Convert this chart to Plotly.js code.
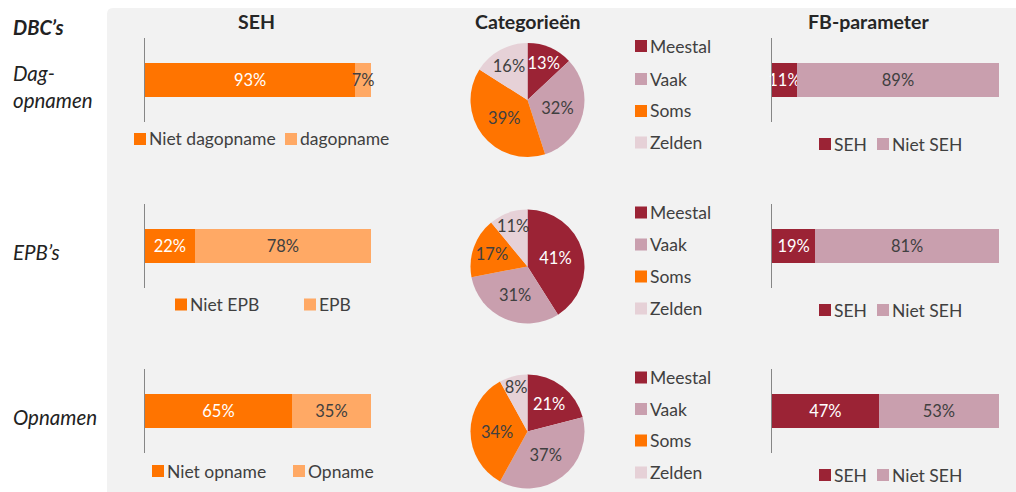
<!DOCTYPE html>
<html>
<head>
<meta charset="utf-8">
<script src="https://cdn.plot.ly/plotly-3.0.1.min.js"></script>
<style>html,body{margin:0;padding:0;background:#fff;}#chart{width:1016px;height:492px;}</style>
</head>
<body>
<div id="chart"></div>
<script>
// ---------- DATA ----------
const rowLabels = ['Dag-<br>opnamen', 'EPB\u2019s', 'Opnamen'];
const sehSeriesDag = ['Niet dagopname', 'dagopname'];
const sehSeriesEpb = ['Niet EPB', 'EPB'];
const sehSeriesOpn = ['Niet opname', 'Opname'];
const sehValuesDag = [93, 7];
const sehValuesEpb = [22, 78];
const sehValuesOpn = [65, 35];
const pieCategories = ['Meestal', 'Vaak', 'Soms', 'Zelden'];
const pieValuesDag = [13, 32, 39, 16];
const pieValuesEpb = [41, 31, 17, 11];
const pieValuesOpn = [21, 37, 34, 8];
const fbSeries = ['SEH', 'Niet SEH'];
const fbValuesDag = [11, 89];
const fbValuesEpb = [19, 81];
const fbValuesOpn = [47, 53];

// ---------- STYLE ----------
const W = 1016, H = 492;
const FONT = 'Lato, "Open Sans", sans-serif';
const DARK = '#404040';
const sehColors = ['#FF7400', '#FFA965'];
const fbColors = ['#9B2335', '#C99FAE'];
const pieColors = ['#9B2335', '#C99FAE', '#FF7400', '#E6D1D7'];
const pieTextColors = ['#ffffff', DARK, DARK, DARK];
const sehTextColors = ['#ffffff', DARK];
const fbTextColors = ['#ffffff', DARK];

const px = v => v / W;
const py = v => 1 - v / H;

// row geometry (pixels)
const rows = [
  {axisTop: 38, axisBot: 122, pieCy: 100, sehLegY: 139, fbLegY: 144, pieLegY: [46, 79, 111, 142.5], labelY: 87},
  {axisTop: 204, axisBot: 288, pieCy: 266.5, sehLegY: 304.5, fbLegY: 310, pieLegY: [212.5, 244.5, 276.5, 308.5], labelY: 252},
  {axisTop: 369, axisBot: 453, pieCy: 431.5, sehLegY: 471, fbLegY: 475, pieLegY: [377.5, 409, 440.5, 472.5], labelY: 417}
];
const sehLegX = [[134, 285], [175, 304], [152, 293]];
const fbLegX = [819, 877];

const sehSeries = [sehSeriesDag, sehSeriesEpb, sehSeriesOpn];
const sehValues = [sehValuesDag, sehValuesEpb, sehValuesOpn];
const pieValues = [pieValuesDag, pieValuesEpb, pieValuesOpn];
const fbValues = [fbValuesDag, fbValuesEpb, fbValuesOpn];

const data = [];
const layout = {
  width: W, height: H,
  margin: {l: 0, r: 0, t: 0, b: 0},
  paper_bgcolor: '#ffffff',
  plot_bgcolor: 'rgba(0,0,0,0)',
  showlegend: false,
  barmode: 'stack',
  bargap: 0.595,
  font: {family: FONT, color: DARK, size: 16},
  uniformtext: {mode: 'show', minsize: 16.5},
  shapes: [],
  annotations: []
};

// background panel
layout.shapes.push({
  type: 'path', xref: 'paper', yref: 'paper', layer: 'below',
  path: `M ${px(107)} ${py(492)} L ${px(107)} ${py(14)} Q ${px(107)} ${py(8)} ${px(113)} ${py(8)} L ${px(1016)} ${py(8)} L ${px(1016)} ${py(492)} Z`,
  fillcolor: '#F2F2F2', line: {width: 0}
});

function addAxes(idx, x0, x1, r) {
  const xa = idx === 1 ? 'xaxis' : 'xaxis' + idx;
  const ya = idx === 1 ? 'yaxis' : 'yaxis' + idx;
  layout[xa] = {domain: [px(x0), px(x1)], range: [0, 100], visible: false, fixedrange: true,
    anchor: idx === 1 ? 'y' : 'y' + idx};
  layout[ya] = {domain: [py(r.axisBot), py(r.axisTop)], anchor: idx === 1 ? 'x' : 'x' + idx,
    showline: true, linecolor: '#868686', linewidth: 1, showticklabels: false, ticks: '',
    showgrid: false, zeroline: false, fixedrange: true, type: 'category'};
}

function legendItem(x, y, color, text) {
  layout.shapes.push({type: 'rect', xref: 'paper', yref: 'paper', layer: 'above',
    x0: px(x), x1: px(x + 12), y0: py(y + 6), y1: py(y - 6), fillcolor: color, line: {width: 0}});
  layout.annotations.push({xref: 'paper', yref: 'paper', x: px(x + 14), y: py(y), xanchor: 'left', yanchor: 'middle',
    text: text, showarrow: false, font: {family: FONT, size: 17.5, color: DARK}, borderpad: 0});
}

rows.forEach((r, i) => {
  const sehIdx = i + 1, fbIdx = i + 4;
  addAxes(sehIdx, 145, 371, r);
  addAxes(fbIdx, 772, 999, r);
  const ycat = [rowLabels[i]];
  sehSeries[i].forEach((name, k) => {
    data.push({type: 'bar', orientation: 'h', name: name, x: [sehValues[i][k]], y: ycat,
      xaxis: sehIdx === 1 ? 'x' : 'x' + sehIdx, yaxis: sehIdx === 1 ? 'y' : 'y' + sehIdx,
      marker: {color: sehColors[k], line: {width: 0}},
      texttemplate: '%{x}%', textposition: 'inside', insidetextanchor: 'middle', textangle: 0,
      constraintext: 'none', cliponaxis: false,
      textfont: {family: FONT, size: 16.5, color: sehTextColors[k]}, hoverinfo: 'skip'});
    legendItem(sehLegX[i][k], r.sehLegY, sehColors[k], name);
  });
  fbSeries.forEach((name, k) => {
    data.push({type: 'bar', orientation: 'h', name: name, x: [fbValues[i][k]], y: ycat,
      xaxis: 'x' + fbIdx, yaxis: 'y' + fbIdx,
      marker: {color: fbColors[k], line: {width: 0}},
      texttemplate: '%{x}%', textposition: 'inside', insidetextanchor: 'middle', textangle: 0,
      constraintext: 'none', cliponaxis: false,
      textfont: {family: FONT, size: 16.5, color: fbTextColors[k]}, hoverinfo: 'skip'});
    legendItem(fbLegX[k], r.fbLegY, fbColors[k], name);
  });
  data.push({type: 'pie', values: pieValues[i], labels: pieCategories, sort: false,
    direction: 'clockwise', rotation: 0,
    domain: {x: [px(470.5), px(584.5)], y: [py(r.pieCy + 57), py(r.pieCy - 57)]},
    marker: {colors: pieColors, line: {width: 0}},
    texttemplate: '%{value}%', textposition: 'inside', insidetextorientation: 'horizontal',
    textfont: {family: FONT, size: 16.5, color: pieTextColors}, hoverinfo: 'skip', showlegend: false});
  pieCategories.forEach((c, k) => legendItem(635, r.pieLegY[k], pieColors[k], c));
  layout.annotations.push({xref: 'paper', yref: 'paper', x: px(11), y: py(r.labelY), xanchor: 'left', yanchor: 'middle',
    text: '<i>' + rowLabels[i] + '</i>', align: 'left', showarrow: false, font: {family: FONT, size: 20.5, color: '#222'}});
});

// titles
[['SEH', 256], ['Categorie\u00ebn', 528], ['FB-parameter', 868]].forEach(([t, x]) => {
  layout.annotations.push({xref: 'paper', yref: 'paper', x: px(x), y: py(22), xanchor: 'center', yanchor: 'middle',
    text: '<b>' + t + '</b>', showarrow: false, font: {family: FONT, size: 19.5, color: '#262626'}});
});
layout.annotations.push({xref: 'paper', yref: 'paper', x: px(11), y: py(27), xanchor: 'left', yanchor: 'middle',
  text: '<b><i>DBC\u2019s</i></b>', showarrow: false, font: {family: FONT, size: 20, color: '#222'}});

Plotly.newPlot('chart', data, layout, {displayModeBar: false, staticPlot: true});
</script>
</body>
</html>
